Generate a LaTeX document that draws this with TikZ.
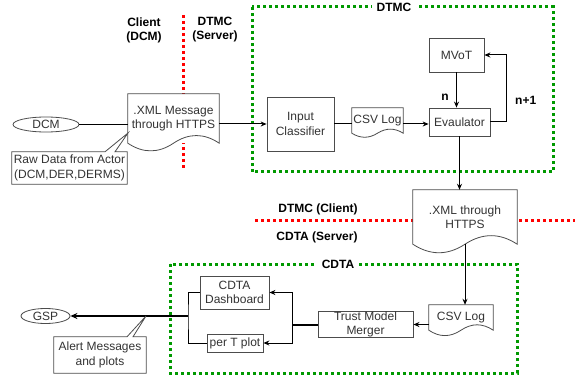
\documentclass[tikz,border=0pt]{standalone}
\usepackage{fontspec}
\setmainfont{Liberation Sans}
\usetikzlibrary{shapes.geometric,calc,arrows.meta}

% outline of a document shape with a wavy bottom edge
\newcommand{\docoutline}[2]{%
  \draw[draw=black!70,line width=0.8pt] (#1.south west) -- (#1.north west) -- (#1.north east) -- (#1.south east)
    .. controls ([yshift=0.6*#2]$(#1.south east)!0.1667!(#1.south west)$)
    and ([yshift=0.6*#2]$(#1.south east)!0.3333!(#1.south west)$) .. (#1.south)
    .. controls ([yshift=-0.6*#2]$(#1.south west)!0.3333!(#1.south east)$)
    and ([yshift=-0.6*#2]$(#1.south west)!0.1667!(#1.south east)$) .. (#1.south west) -- cycle;}

\begin{document}
\begin{tikzpicture}
[x=1pt,y=-1pt,
font=\fontsize{12}{14.5}\selectfont,
block/.style={draw=black!70,fill=white,line width=0.8pt,align=center,inner sep=0pt,text=black!80},
docnode/.style={fill=white,align=center,inner sep=0pt,text=black!80},
note/.style={align=center,inner sep=0pt,text=black!80},
actor/.style={ellipse,draw=black!70,line width=0.8pt,inner sep=0pt,text=black!80},
zone/.style={draw=green!60!black,line width=3pt,dash pattern=on 3pt off 3pt},
splitline/.style={draw=red,line width=3pt,dash pattern=on 3pt off 3pt},
tag/.style={font=\fontsize{12}{14}\selectfont\bfseries,align=center},
wire/.style={line width=1pt},
flow/.style={line width=1pt,-{Stealth[length=6pt,width=5pt]}}]

\useasboundingbox (0,0) rectangle (575,379);

%draw the client/server splits
\draw[splitline] (183,15) -- (183,170);
\draw[splitline] (255,221) -- (575,221);

%draw the DTMC zone
\draw[zone] (252,7) rectangle (553,172);
\node[tag,fill=white,inner xsep=5pt,inner ysep=1pt] (dtmcTag) at (394,7) {DTMC};
\node[tag] (clientTag) at (144,30) {Client\\(DCM)};
\node[tag] (serverTag) at (215,30) {DTMC\\(Server)};

%draw the client side
\node[actor,minimum width=66pt,minimum height=15pt] (dcm) at (46,124.5) {DCM};
\node[docnode,minimum width=91pt,minimum height=49pt] (xmlA) at (173.5,118.5) {.XML Message\\through HTTPS};
\docoutline{xmlA}{17pt}
\node[note,minimum width=115pt,minimum height=32pt] (raw) at (69.5,168) {Raw Data from Actor\\(DCM,DER,DERMS)};
\coordinate (rawTip) at (128,133);
\draw[draw=black!70,line width=0.8pt] (raw.north west) -- ([xshift=35.5pt]raw.north) -- (rawTip) -- ([xshift=45.5pt]raw.north) -- (raw.north east) -- (raw.south east) -- (raw.south west) -- cycle;

%draw the DTMC blocks
\node[block,minimum width=67pt,minimum height=54pt] (inpA) at (300.5,124) {Input\\Classifier};
\node[docnode,minimum width=51pt,minimum height=25pt] (csvA) at (377.5,120.5) {CSV Log};
\docoutline{csvA}{9pt}
\node[block,minimum width=61pt,minimum height=28pt] (eval) at (459.5,122) {Evaulator};
\node[block,minimum width=55pt,minimum height=34pt] (mvot) at (456.5,55) {MVoT};

\draw[wire] (dcm.east) -- (xmlA.west |- dcm.east);
\draw[flow] (xmlA.east |- inpA.west) -- (inpA.west);
\draw[wire] (inpA.east) -- (csvA.west |- inpA.east);
\draw[flow] (csvA.east |- inpA.east) -- (eval.west |- inpA.east);
\draw[flow] (mvot.south) -- (mvot.south |- eval.north) node[pos=0.7,left=4pt,tag]{n};
\draw[flow] (eval.east) -- ++(16,0) |- (mvot.east) node[pos=0.16,right=5pt,tag]{n+1};

%draw the DTMC to CDTA message
\node[docnode,minimum width=104pt,minimum height=54pt] (xmlB) at (465,217) {.XML through\\HTTPS};
\docoutline{xmlB}{19pt}
\draw[flow] (eval.south) -- (eval.south |- xmlB.north);
\node[tag] (clientB) at (318,209) {DTMC (Client)};
\node[tag] (serverB) at (317,237) {CDTA (Server)};

%draw the CDTA zone
\draw[zone] (170,264) rectangle (517,373);
\node[tag,fill=white,inner xsep=5pt,inner ysep=1pt] (cdtaTag) at (338,264) {CDTA};

\node[docnode,minimum width=64pt,minimum height=25pt] (csvB) at (461,317.5) {CSV Log};
\docoutline{csvB}{12pt}
\node[block,minimum width=95pt,minimum height=25pt] (merger) at (365.5,324.5) {Trust Model\\Merger};
\node[block,minimum width=69pt,minimum height=33pt] (dash) at (234.5,292.5) {CDTA\\Dashboard};
\node[block,minimum width=56pt,minimum height=18pt] (plot) at (235,343) {per T plot};

\draw[flow] (xmlB.south) -- (xmlB.south |- csvB.north);
\draw[flow] (csvB.west |- merger.east) -- (merger.east);
\coordinate (mergeJoin) at (292,324.5);
\draw[line width=2pt] (merger.west) -- (mergeJoin);
\draw[flow] (mergeJoin) |- (dash.east);
\draw[flow] (mergeJoin) |- (plot.east);

%draw the output to GSP
\coordinate (outJoin) at (188,316);
\draw[wire] (dash.west) -| (outJoin) |- (plot.west);
\node[actor,minimum width=49pt,minimum height=15pt] (gsp) at (45.5,316) {GSP};
\draw[line width=1.5pt,-{Stealth[length=7pt,width=6pt]}] (outJoin) -- (gsp.east);

\node[note,minimum width=92pt,minimum height=36pt] (alert) at (100,355) {Alert Messages\\and plots};
\coordinate (alertTip) at (146,316);
\draw[draw=black!70,line width=0.8pt] (alert.north west) -- ([xshift=27pt]alert.north) -- (alertTip) -- ([xshift=33pt]alert.north) -- (alert.north east) -- (alert.south east) -- (alert.south west) -- cycle;

\end{tikzpicture}
\end{document}
